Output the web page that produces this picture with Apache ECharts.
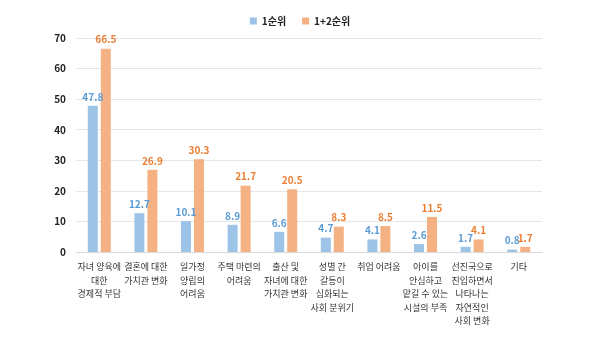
<!DOCTYPE html>
<html><head><meta charset="utf-8">
<script src="https://cdn.jsdelivr.net/npm/echarts@6/dist/echarts.min.js"></script>
<style>html,body{margin:0;padding:0;background:#fff}#c{width:600px;height:339px}</style>
</head><body><div id="c"></div>
<script>
const categories = [
  '자녀 양육에\n대한\n경제적 부담',
  '결혼에 대한\n가치관 변화',
  '일가정\n양립의\n어려움',
  '주택 마련의\n어려움',
  '출산 및\n자녀에 대한\n가치관 변화',
  '성별 간\n갈등이\n심화되는\n사회 분위기',
  '취업 어려움',
  '아이를\n안심하고\n맡길 수 있는\n시설의 부족',
  '선진국으로\n진입하면서\n나타나는\n자연적인\n사회 변화',
  '기타'
];
const seriesNames = ['1순위', '1+2순위'];
const rank1 = [47.8, 12.7, 10.1, 8.9, 6.6, 4.7, 4.1, 2.6, 1.7, 0.8];
const rank12 = [66.5, 26.9, 30.3, 21.7, 20.5, 8.3, 8.5, 11.5, 4.1, 1.7];
const yTicks = [0, 10, 20, 30, 40, 50, 60, 70];

const font = '"Noto Sans CJK KR", "Noto Sans", sans-serif';
const chart = echarts.init(document.getElementById('c'));
chart.setOption({
  animation: false,
  textStyle: { fontFamily: font },
  legend: {
    top: 11, left: 'center', itemWidth: 7, itemHeight: 7, itemGap: 16,
    icon: 'rect',
    textStyle: { fontSize: 10, fontWeight: 'bold', color: '#222', fontFamily: font },
    data: seriesNames
  },
  grid: { left: 76, right: 58, top: 38, bottom: 87 },
  xAxis: {
    type: 'category', data: categories,
    axisLine: { lineStyle: { color: '#d9d9d9' } },
    axisTick: { show: false },
    axisLabel: { interval: 0, fontSize: 9, lineHeight: 13.5, color: '#333', margin: 8, fontFamily: font }
  },
  yAxis: {
    type: 'value', min: yTicks[0], max: yTicks[yTicks.length - 1], interval: 10,
    axisLine: { show: false }, axisTick: { show: false },
    splitLine: { lineStyle: { color: '#e6e6e6' } },
    axisLabel: { fontSize: 10, fontWeight: 'bold', color: '#222', margin: 10, fontFamily: font }
  },
  series: [
    {
      name: seriesNames[0], type: 'bar', data: rank1, barWidth: 10, barGap: '30%',
      itemStyle: { color: '#9dc3e6' },
      label: { show: true, position: 'top', fontSize: 10, fontWeight: 'bold', color: '#5b9bd5', distance: 4, fontFamily: font }
    },
    {
      name: seriesNames[1], type: 'bar', data: rank12, barWidth: 10,
      itemStyle: { color: '#f4b183' },
      label: { show: true, position: 'top', fontSize: 10, fontWeight: 'bold', color: '#ed7d31', distance: 4, fontFamily: font }
    }
  ]
});
</script></body></html>
